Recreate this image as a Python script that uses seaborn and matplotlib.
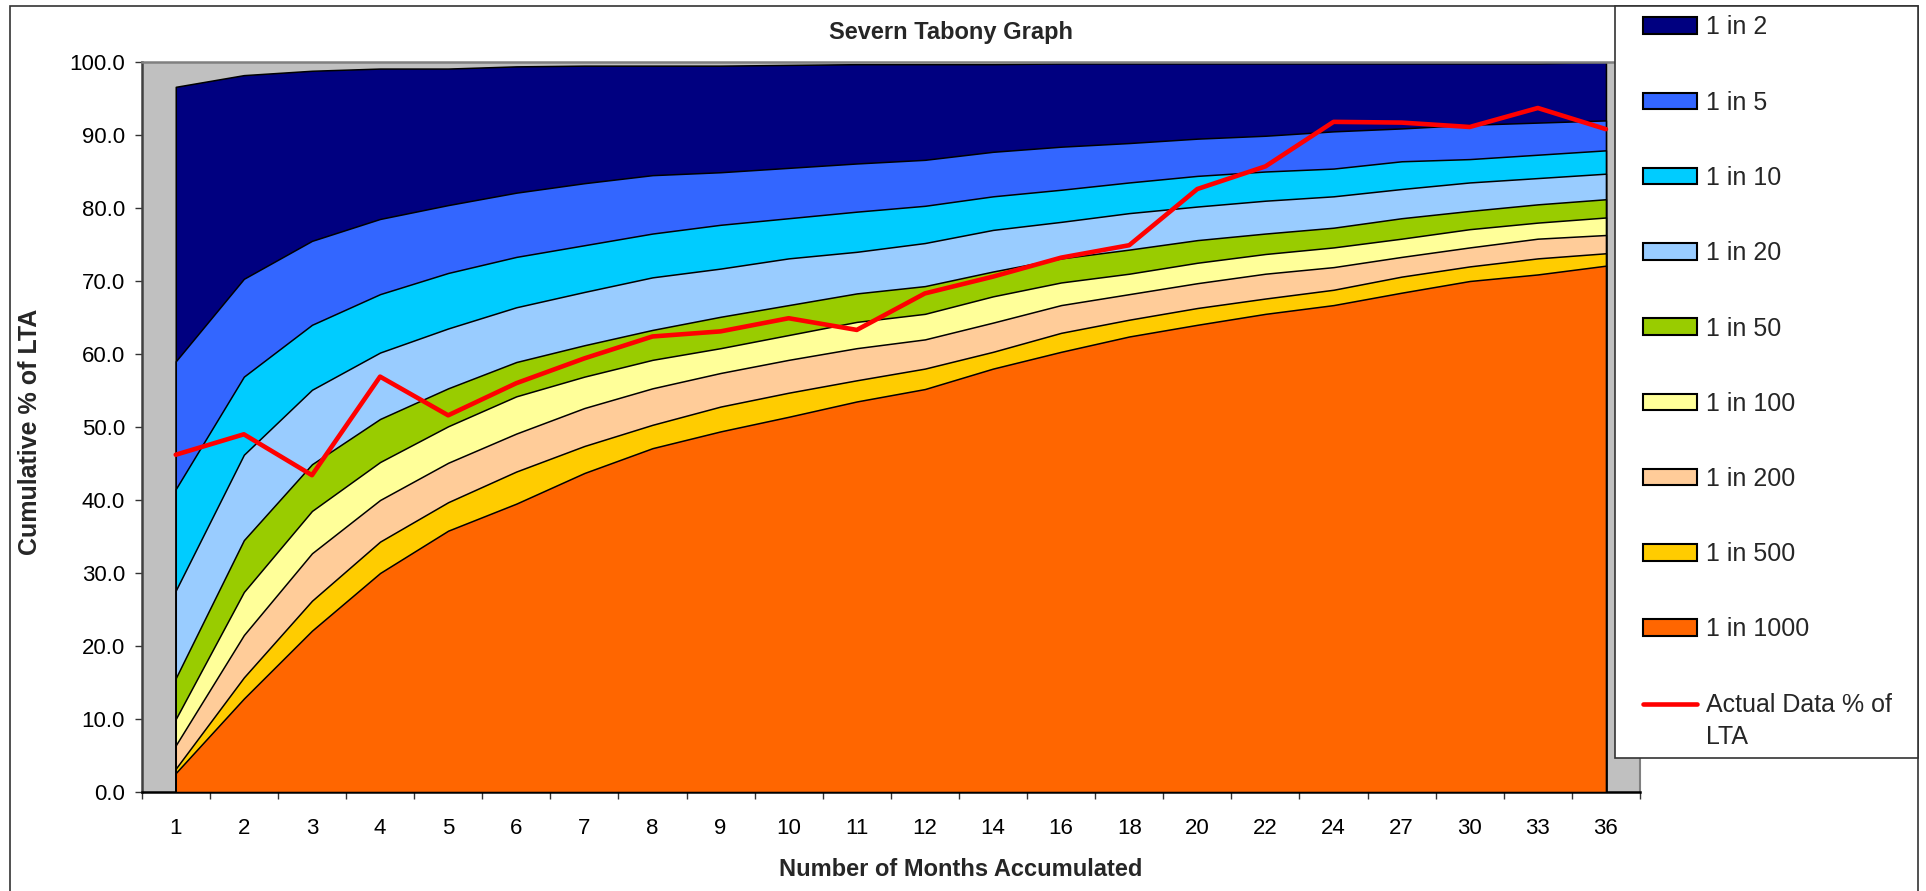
import matplotlib
matplotlib.use('Agg')
import matplotlib.pyplot as plt
import numpy as np
import seaborn as sns
from matplotlib.patches import Patch, Rectangle
from matplotlib.lines import Line2D
from matplotlib.legend_handler import HandlerLine2D
from matplotlib.ticker import FormatStrFormatter

# Data (cumulative % of LTA)
months = [1, 2, 3, 4, 5, 6, 7, 8, 9, 10, 11, 12, 14, 16, 18, 20, 22, 24, 27, 30, 33, 36]

one_in_2 = [96.6, 98.2, 98.8, 99.1, 99.1, 99.4, 99.5, 99.5, 99.5, 99.6, 99.7, 99.7,
            99.7, 99.8, 99.8, 99.8, 99.8, 99.8, 99.8, 99.8, 99.8, 100.0]
one_in_5 = [59.0, 70.3, 75.5, 78.5, 80.4, 82.1, 83.4, 84.5, 84.9, 85.5, 86.1, 86.6,
            87.7, 88.4, 88.9, 89.5, 89.9, 90.5, 90.9, 91.4, 91.7, 92.0]
one_in_10 = [41.5, 56.9, 64.0, 68.2, 71.1, 73.3, 74.9, 76.5, 77.7, 78.6, 79.5, 80.3,
             81.6, 82.5, 83.5, 84.4, 85.0, 85.4, 86.4, 86.7, 87.3, 87.9]
one_in_20 = [27.6, 46.2, 55.1, 60.2, 63.5, 66.4, 68.5, 70.5, 71.7, 73.1, 74.0, 75.2,
             77.0, 78.1, 79.3, 80.2, 81.0, 81.6, 82.6, 83.5, 84.1, 84.7]
one_in_50 = [15.6, 34.5, 44.9, 51.1, 55.3, 58.9, 61.2, 63.3, 65.1, 66.7, 68.3, 69.3,
             71.3, 73.1, 74.3, 75.6, 76.5, 77.3, 78.6, 79.6, 80.5, 81.2]
one_in_100 = [10.0, 27.4, 38.5, 45.2, 50.1, 54.2, 56.9, 59.2, 60.8, 62.6, 64.4, 65.5,
              67.9, 69.8, 71.0, 72.5, 73.7, 74.6, 75.8, 77.1, 78.0, 78.7]
one_in_200 = [6.4, 21.5, 32.7, 40.0, 45.1, 49.1, 52.6, 55.3, 57.4, 59.2, 60.8, 62.0,
              64.3, 66.7, 68.2, 69.7, 71.0, 71.9, 73.3, 74.6, 75.8, 76.3]
one_in_500 = [3.2, 15.7, 26.2, 34.3, 39.7, 43.9, 47.4, 50.3, 52.8, 54.7, 56.4, 58.0,
              60.3, 62.9, 64.7, 66.3, 67.6, 68.8, 70.6, 72.0, 73.1, 73.8]
one_in_1000 = [2.6, 12.8, 22.1, 30.0, 35.8, 39.5, 43.7, 47.1, 49.4, 51.4, 53.5, 55.2,
               58.0, 60.3, 62.4, 64.0, 65.5, 66.7, 68.4, 70.0, 70.9, 72.1]
actual = [46.2, 49.0, 43.4, 56.9, 51.6, 56.0, 59.4, 62.4, 63.1, 64.9, 63.3, 68.3,
          70.6, 73.2, 74.9, 82.6, 85.7, 91.8, 91.7, 91.1, 93.7, 90.8]

series_labels = ['1 in 2', '1 in 5', '1 in 10', '1 in 20', '1 in 50',
                 '1 in 100', '1 in 200', '1 in 500', '1 in 1000']
series_values = [one_in_2, one_in_5, one_in_10, one_in_20, one_in_50,
                 one_in_100, one_in_200, one_in_500, one_in_1000]
series_colors = ['#000080', '#3366FF', '#00CCFF', '#99CCFF', '#99CC00',
                 '#FFFF99', '#FFCC99', '#FFCC00', '#FF6600']


class RaisedLine(HandlerLine2D):
    # puts the legend line level with the first line of a two-line label
    def __init__(self, dy, **kw):
        super().__init__(**kw)
        self.dy = dy

    def create_artists(self, legend, orig_handle, xdescent, ydescent,
                       width, height, fontsize, trans):
        artists = super().create_artists(legend, orig_handle, xdescent, ydescent,
                                         width, height, fontsize, trans)
        for a in artists:
            a.set_ydata(np.asarray(a.get_ydata(), dtype=float) + self.dy)
        return artists


sns.set_theme(style='white')
plt.rcParams['font.family'] = ['Liberation Sans', 'DejaVu Sans']

W, H = 1926, 891
fig = plt.figure(figsize=(W / 100, H / 100), dpi=100)
ax = fig.add_axes([141.7 / W, 1 - 792 / H, (1640 - 141.7) / W, (792 - 62) / H])
ax.set_facecolor('#C0C0C0')

x = np.arange(len(months))

# Overlapping areas, widest return period at the back
for i, (vals, col) in enumerate(zip(series_values, series_colors)):
    ax.fill_between(x, 0, vals, facecolor=col, edgecolor='black',
                    linewidth=1.1, zorder=2 + i)

sns.lineplot(x=x, y=actual, color='#FF0000', linewidth=3.3, ax=ax,
             zorder=20, legend=False)

ax.set_xlim(-0.5, len(months) - 0.5)
ax.set_ylim(0, 100)

# Axis styling
ax.set_yticks(np.arange(0, 101, 10))
ax.yaxis.set_major_formatter(FormatStrFormatter('%.1f'))
ax.tick_params(axis='y', left=True, direction='out', length=5, width=1,
               color='#333333', labelsize=16, pad=7, labelcolor='black')

ax.set_xticks(np.arange(-0.5, len(months), 1))
ax.set_xticklabels([])
ax.set_xticks(x, minor=True)
ax.set_xticklabels([str(m) for m in months], minor=True)
ax.tick_params(axis='x', which='major', bottom=True, direction='out', length=5,
               width=1, color='#333333')
ax.tick_params(axis='x', which='minor', bottom=True, length=0, pad=19,
               labelsize=16, labelcolor='black')
ax.set_xlabel('')
ax.set_ylabel('')
ax.grid(False)

ax.spines['left'].set_color('#404040')
ax.spines['left'].set_linewidth(1.8)
ax.spines['top'].set_color('#808080')
ax.spines['top'].set_linewidth(1.8)
ax.spines['right'].set_color('#808080')
ax.spines['right'].set_linewidth(1.5)
ax.spines['bottom'].set_color('black')
ax.spines['bottom'].set_linewidth(1.8)

# Titles
fig.text(951 / W, 1 - 32 / H, 'Severn Tabony Graph', ha='center', va='center',
         fontsize=17, fontweight='bold')
fig.text(961 / W, 1 - 870 / H, 'Number of Months Accumulated', ha='center',
         va='center', fontsize=17, fontweight='bold')
fig.text(30 / W, 1 - 432 / H, 'Cumulative % of LTA', ha='center', va='center',
         rotation=90, fontsize=18, fontweight='bold')

# Chart border and legend box
fig.add_artist(Rectangle((10 / W, -0.05), (1918 - 10) / W, 1 - 6 / H + 0.05,
                         transform=fig.transFigure, fill=False,
                         edgecolor='#333333', linewidth=1.2, zorder=0))
fig.add_artist(Rectangle((1615 / W, 1 - 758 / H), (1918 - 1615) / W, (758 - 6) / H,
                         transform=fig.transFigure, facecolor='white',
                         edgecolor='#333333', linewidth=1.2, zorder=5))

handles = [Patch(facecolor=c, edgecolor='black', linewidth=1.5) for c in series_colors]
actual_handle = Line2D([], [], color='#FF0000', linewidth=3.3)
handles.append(actual_handle)
labels = series_labels + ['Actual Data % of\nLTA']
leg = fig.legend(handles, labels, loc='upper left',
                 bbox_to_anchor=(1643 / W, 1 - 15.5 / H), frameon=False,
                 fontsize=18, borderpad=0, borderaxespad=0, labelspacing=2.05,
                 handlelength=2.15, handleheight=0.64, handletextpad=0.35,
                 handler_map={actual_handle: RaisedLine(dy=13)})
leg.get_texts()[-1].set_linespacing(1.45)
leg.set_zorder(10)

fig.savefig('out.png', dpi=100)
